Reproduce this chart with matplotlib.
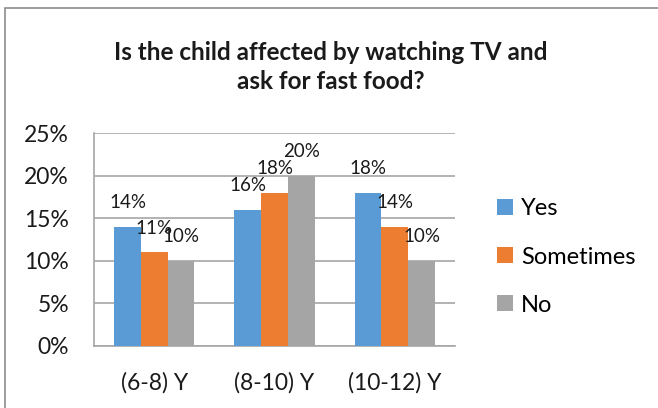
import numpy as np
import matplotlib
matplotlib.use('Agg')
from matplotlib import pyplot as plt
from matplotlib.patches import Rectangle

plt.rcParams['font.family'] = ['Lato', 'DejaVu Sans']

# data
groups = ['(6-8) Y', '(8-10) Y', '(10-12) Y']
yes = [14, 16, 18]
sometimes = [11, 18, 14]
no = [10, 20, 10]
series_names = ['Yes', 'Sometimes', 'No']
colors = ['#5B9BD5', '#ED7D31', '#A5A5A5']

fig = plt.figure(figsize=(6.58, 4.08), dpi=100)
ax = fig.add_axes([94/658, 62/408, 361/658, 213/408])

# chart border (only left/top visible in the crop)
fig.patches.append(Rectangle((5/658, -0.05), 1.2, 1.0 - 8/408 + 0.05, transform=fig.transFigure,
                             fill=False, edgecolor='#8c8c8c', linewidth=1.2))

x = np.arange(len(groups))
w = 0.222
for i, (vals, name, col) in enumerate(zip([yes, sometimes, no], series_names, colors)):
    pos = x + (i - 1) * w
    ax.bar(pos, vals, width=w, color=col, label=name, zorder=3)
    for p, v in zip(pos, vals):
        ax.annotate(f'{v}%', (p, v), xytext=(0, 24), textcoords='offset pixels',
                    ha='center', va='center', fontsize=13.5, color='#1a1a1a', zorder=4)

ax.set_xlim(-0.5, 2.5)
ax.set_ylim(0, 25)
ax.set_yticks([0, 5, 10, 15, 20, 25])
ax.set_yticklabels([f'{t}%' for t in [0, 5, 10, 15, 20, 25]])
ax.set_xticks(x)
ax.set_xticklabels(groups)
ax.tick_params(axis='both', length=0, labelsize=16.5, colors='#1a1a1a')
ax.tick_params(axis='y', pad=18)
ax.tick_params(axis='x', pad=19)
ax.yaxis.grid(True, color='#a6a6a6', linewidth=1.2, zorder=0)
for s in ['top', 'right']:
    ax.spines[s].set_visible(False)
ax.spines['left'].set_color('#a6a6a6')
ax.spines['bottom'].set_color('#a6a6a6')
ax.spines['left'].set_linewidth(1.2)
ax.spines['bottom'].set_linewidth(1.2)

fig.text(0.502, 1 - 67/408, 'Is the child affected by watching TV and\nask for fast food?',
         ha='center', va='center', fontsize=17.5, fontweight='bold', linespacing=1.3,
         color='#1a1a1a')

fig.legend(loc='center left', bbox_to_anchor=(476/658, 1 - 257/408), frameon=False,
           fontsize=17, handlelength=0.65, handleheight=0.65, handletextpad=0.35,
           labelspacing=1.15)

fig.savefig('out.png', dpi=100)
